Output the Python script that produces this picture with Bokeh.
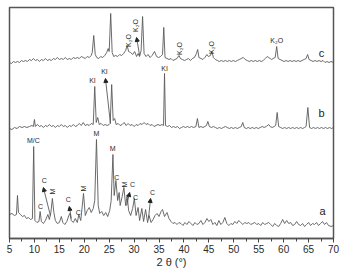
from bokeh.plotting import figure
from bokeh.models import Range1d, SingleIntervalTicker, Arrow, NormalHead, ColumnDataSource
from bokeh.core.properties import value
from bokeh.embed import file_html
from bokeh.resources import INLINE

# ---- data: 2theta (deg) and relative intensity for each pattern ----
theta_a = [5.0, 5.5, 6.0, 6.4, 6.6, 6.8, 7.2, 7.6, 8.0, 8.4, 8.8, 9.2, 9.6, 9.85, 10.1, 10.5, 10.9, 11.15, 11.4, 11.8,
           12.2, 12.7, 13.0, 13.3, 13.6, 13.9, 14.2, 14.6, 15.0, 15.4, 15.7, 16.1, 16.5, 16.9, 17.1, 17.4, 17.8, 18.2, 18.6, 18.9,
           19.3, 19.85, 20.2, 20.6, 21.0, 21.4, 21.8, 22.1, 22.45, 22.8, 23.1, 23.5, 23.9, 24.3, 24.7, 25.1, 25.4, 25.75, 26.0, 26.35,
           26.7, 27.0, 27.2, 27.6, 27.95, 28.3, 28.6, 28.9, 29.3, 29.7, 30.05, 30.4, 30.8, 31.1, 31.55, 31.9, 32.3, 32.7, 33.0, 33.4,
           33.8, 34.2, 34.6, 35.0, 35.4, 35.7, 36.1, 36.6, 37.0, 37.4, 37.8, 38.2, 38.6, 39.0, 39.4, 39.8, 40.2, 40.6, 41.0, 41.4,
           41.8, 42.2, 42.6, 43.0, 43.4, 43.8, 44.2, 44.6, 45.0, 45.4, 45.8, 46.2, 46.6, 47.0, 47.4, 47.8, 48.2, 48.6, 49.0, 49.4,
           49.8, 50.2, 50.6, 51.0, 51.4, 51.8, 52.2, 52.6, 53.0, 53.4, 53.8, 54.2, 54.6, 55.0, 55.4, 55.8, 56.2, 56.6, 57.0, 57.4,
           57.8, 58.2, 58.6, 59.0, 59.4, 59.8, 60.2, 60.6, 61.0, 61.4, 61.8, 62.2, 62.6, 63.0, 63.4, 63.8, 64.2, 64.6, 65.0, 65.4,
           65.8, 66.2, 66.6, 67.0, 67.4, 67.8, 68.2, 68.6, 69.0, 69.5, 70.0]
int_a = [24, 25, 23, 24, 43, 26, 24, 22, 23, 20, 21, 19, 20, 92, 18, 16, 17, 27, 17, 15,
         18, 24, 19, 26, 40, 26, 18, 15, 16, 22, 16, 14, 17, 23, 25, 18, 16, 20, 16, 24,
         18, 45, 23, 28, 31, 26, 30, 38, 99, 33, 25, 27, 23, 26, 22, 28, 38, 84, 43, 58,
         38, 46, 33, 42, 51, 33, 43, 28, 23, 30, 40, 23, 31, 18, 30, 17, 29, 16, 23, 16,
         19, 23, 25, 22, 27, 29, 22, 26, 20, 17, 15, 16, 14, 16, 15, 13, 16, 14, 17, 15,
         13, 16, 14, 15, 18, 14, 16, 20, 17, 19, 14, 16, 13, 18, 14, 16, 21, 15, 13, 15,
         14, 17, 15, 18, 16, 14, 16, 15, 16, 14, 15, 16, 14, 15, 13, 16, 14, 15, 16, 14,
         12, 15, 13, 12, 15, 19, 15, 18, 15, 16, 13, 14, 17, 14, 13, 15, 12, 14, 16, 13,
         15, 14, 16, 13, 15, 17, 14, 16, 13, 12, 13]

theta_b = [5.0, 5.5, 6.0, 6.5, 7.0, 7.5, 8.0, 8.5, 9.0, 9.5, 9.8, 10.0, 10.2, 10.6, 11.0, 11.4, 11.8, 12.2, 12.6, 13.0,
           13.4, 13.8, 14.2, 14.6, 15.0, 15.4, 15.8, 16.2, 16.6, 17.0, 17.4, 17.8, 18.2, 18.6, 19.0, 19.4, 19.8, 20.2, 20.6, 21.0,
           21.4, 21.8, 22.1, 22.4, 22.7, 23.0, 23.4, 23.8, 24.2, 24.6, 25.0, 25.2, 25.5, 25.8, 26.1, 26.4, 26.8, 27.2, 27.6, 28.0,
           28.4, 28.8, 29.2, 29.6, 30.0, 30.4, 30.8, 31.2, 31.6, 32.0, 32.4, 32.8, 33.2, 33.6, 34.0, 34.4, 34.8, 35.2, 35.6, 35.9,
           36.1, 36.3, 36.7, 37.1, 37.5, 37.9, 38.3, 38.7, 39.1, 39.5, 39.9, 40.3, 40.7, 41.1, 41.5, 41.9, 42.4, 42.7, 43.0, 43.4,
           43.8, 44.2, 44.5, 44.8, 45.1, 45.5, 45.9, 46.3, 46.7, 47.1, 47.5, 47.9, 48.3, 48.7, 49.1, 49.5, 49.9, 50.3, 50.7, 51.1,
           51.5, 51.8, 52.1, 52.5, 52.9, 53.3, 53.7, 54.1, 54.5, 54.9, 55.3, 55.7, 56.1, 56.5, 57.0, 57.3, 57.7, 58.1, 58.4, 58.7,
           59.0, 59.4, 59.8, 60.2, 60.6, 61.0, 61.4, 61.8, 62.2, 62.6, 63.0, 63.4, 63.8, 64.2, 64.5, 64.85, 65.2, 65.6, 66.0, 66.4,
           66.8, 67.2, 67.6, 68.0, 68.4, 68.8, 69.2, 69.6, 70.0]
int_b = [10, 9, 11, 10, 12, 11, 12, 11, 12, 13, 12, 19, 12, 14, 12, 13, 11, 13, 12, 14,
         12, 13, 11, 13, 12, 14, 12, 13, 11, 13, 12, 14, 12, 13, 15, 13, 16, 13, 14, 13,
         15, 14, 52, 16, 21, 14, 15, 13, 14, 13, 14, 15, 54, 18, 20, 14, 15, 13, 14, 16,
         13, 15, 13, 14, 12, 14, 13, 15, 14, 16, 14, 15, 13, 14, 12, 13, 14, 13, 14, 13,
         65, 13, 12, 13, 11, 12, 11, 12, 10, 11, 12, 11, 12, 11, 12, 11, 12, 20, 11, 12,
         11, 12, 13, 17, 12, 11, 12, 11, 10, 11, 10, 11, 12, 11, 10, 11, 10, 11, 10, 11,
         12, 16, 11, 10, 11, 10, 11, 10, 11, 10, 11, 12, 11, 12, 14, 12, 11, 12, 13, 26,
         12, 11, 10, 11, 10, 11, 10, 11, 10, 11, 10, 11, 10, 11, 12, 31, 11, 10, 11, 10,
         11, 10, 11, 10, 11, 10, 11, 10, 11]

theta_c = [5.0, 5.4, 5.8, 6.2, 6.6, 7.0, 7.4, 7.8, 8.2, 8.6, 9.0, 9.4, 9.8, 10.2, 10.6, 11.0, 11.4, 11.8, 12.2, 12.6,
           13.0, 13.4, 13.8, 14.2, 14.6, 15.0, 15.4, 15.8, 16.2, 16.6, 17.0, 17.4, 17.8, 18.2, 18.6, 19.0, 19.4, 19.8, 20.2, 20.6,
           21.0, 21.4, 21.6, 21.9, 22.2, 22.5, 22.9, 23.3, 23.7, 24.1, 24.5, 24.8, 25.0, 25.3, 25.6, 25.9, 26.3, 26.7, 27.1, 27.5,
           27.9, 28.3, 28.6, 28.9, 29.3, 29.7, 30.1, 30.5, 30.8, 31.1, 31.4, 31.7, 32.0, 32.4, 32.8, 33.2, 33.6, 34.1, 34.5, 34.9,
           35.3, 35.7, 35.95, 36.2, 36.6, 37.0, 37.4, 37.8, 38.2, 38.6, 39.0, 39.3, 39.7, 40.1, 40.5, 40.9, 41.3, 41.7, 42.1, 42.5,
           42.75, 43.0, 43.4, 43.8, 44.2, 44.6, 44.9, 45.3, 45.6, 45.9, 46.3, 46.7, 47.1, 47.5, 47.9, 48.3, 48.7, 49.1, 49.5, 49.9,
           50.3, 50.7, 51.1, 51.5, 51.9, 52.3, 52.7, 53.1, 53.5, 53.9, 54.3, 54.7, 55.1, 55.5, 55.9, 56.3, 56.7, 57.0, 57.3, 57.6,
           57.9, 58.3, 58.6, 58.9, 59.3, 59.7, 60.1, 60.5, 60.9, 61.3, 61.7, 62.1, 62.5, 62.9, 63.3, 63.7, 64.1, 64.5, 64.8, 65.1,
           65.5, 65.9, 66.3, 66.7, 67.1, 67.5, 67.9, 68.3, 68.7, 69.1, 69.5, 70.0]
int_c = [11, 10, 12, 11, 12, 11, 13, 12, 13, 12, 14, 13, 15, 13, 14, 12, 14, 13, 15, 13,
         14, 13, 15, 14, 16, 14, 15, 14, 16, 14, 15, 14, 16, 15, 16, 15, 17, 16, 15, 17,
         16, 18, 21, 38, 19, 16, 15, 17, 16, 18, 21, 25, 22, 60, 21, 17, 18, 17, 19, 18,
         20, 23, 28, 22, 21, 19, 22, 17, 20, 17, 23, 57, 20, 17, 19, 16, 18, 22, 17, 16,
         17, 19, 46, 16, 15, 14, 15, 13, 14, 15, 18, 15, 14, 13, 14, 15, 13, 15, 16, 20,
         24, 16, 15, 14, 16, 19, 17, 18, 22, 16, 14, 13, 12, 13, 12, 13, 12, 13, 12, 13,
         12, 13, 14, 15, 16, 14, 13, 12, 13, 12, 13, 12, 13, 12, 13, 15, 17, 16, 15, 14,
         15, 16, 27, 15, 14, 13, 12, 13, 12, 13, 12, 13, 12, 13, 12, 13, 14, 15, 19, 14,
         13, 12, 13, 12, 13, 12, 13, 11, 12, 11, 12, 11]

offsets = {"a": 0, "b": 100, "c": 165}

# phase labels: (text, 2theta, y, angle)
labels_a = [("M/C", 9.8, 98, 0), ("C", 11.2, 32, 0), ("C", 12.0, 58, 0), ("M", 13.6, 47, 1.5708),
            ("C", 16.8, 39, 0), ("C", 18.8, 26, 0), ("M", 19.85, 50, 1.5708), ("M", 22.45, 105, 0),
            ("M", 25.7, 90, 0), ("C", 26.5, 61, 0), ("M", 28.1, 54, 1.5708), ("C", 29.7, 54, 0),
            ("C", 30.3, 41, 0), ("C", 33.7, 46, 0)]
labels_b = [("KI", 21.65, 158, 0), ("KI", 24.05, 167, 0), ("KI", 36.1, 170, 0)]
labels_c = [("K\u2082O", 28.9, 198, 1.5708), ("K\u2082O", 30.3, 213, 1.5708), ("K\u2082O", 39.1, 190, 1.5708),
            ("K\u2082O", 45.5, 191, 1.5708), ("K\u2082O", 58.6, 198, 0)]
series_names = [("a", 67.8, 28), ("b", 67.6, 126), ("c", 67.6, 186)]
# arrows: (x_start, y_start, x_end, y_end)
arrows = [(13.2, 23, 11.8, 51), (17.4, 20, 17.0, 32), (28.5, 33, 29.1, 46), (32.9, 21, 33.3, 40),
          (25.25, 115, 24.25, 160), (31.1, 183, 30.5, 201)]
x_title = "2 \u03b8 (\u00b0)"

LINE = "#5a5a5a"
TXT = "#2a2a2a"

p = figure(width=345, height=277, output_backend="svg", toolbar_location=None,
           x_range=Range1d(5, 70), y_range=Range1d(0, 231), y_axis_location=None,
           min_border_left=9, min_border_right=12, min_border_top=7, min_border_bottom=39)
p.background_fill_color = "white"
p.border_fill_color = "white"
p.outline_line_color = "#555555"
p.outline_line_width = 1.5
p.xgrid.visible = False
p.ygrid.visible = False

for th, it, key in [(theta_a, int_a, "a"), (theta_b, int_b, "b"), (theta_c, int_c, "c")]:
    ys = [v + offsets[key] for v in it]
    p.line(th, ys, line_color=LINE, line_width=0.9)

font = value("Liberation Sans")
for labs in (labels_a, labels_b, labels_c):
    src = ColumnDataSource(dict(t=[l[0] for l in labs], x=[l[1] for l in labs],
                                y=[l[2] for l in labs], a=[l[3] for l in labs]))
    p.text(x="x", y="y", text="t", angle="a", source=src, text_font=font, text_font_size="7px",
           text_color=TXT, text_align="center", text_baseline="middle")

src_n = ColumnDataSource(dict(t=[s[0] for s in series_names], x=[s[1] for s in series_names],
                              y=[s[2] for s in series_names]))
p.text(x="x", y="y", text="t", source=src_n, text_font=font, text_font_size="11px",
       text_color="#222222", text_align="center", text_baseline="middle")

for x0, y0, x1, y1 in arrows:
    p.add_layout(Arrow(end=NormalHead(size=4, fill_color="#222222", line_color="#222222"),
                       x_start=x0, y_start=y0, x_end=x1, y_end=y1,
                       line_color="#444444", line_width=0.8))

ax = p.xaxis[0]
ax.ticker = SingleIntervalTicker(interval=5, num_minor_ticks=2)
ax.axis_line_color = "#555555"
ax.axis_line_width = 1.5
ax.major_tick_out = 4
ax.major_tick_in = 0
ax.minor_tick_out = 3
ax.minor_tick_in = 0
ax.major_tick_line_color = "#444444"
ax.minor_tick_line_color = "#444444"
ax.major_label_text_font = "Liberation Sans"
ax.major_label_text_font_size = "10px"
ax.major_label_text_color = TXT
ax.major_label_standoff = 2
ax.axis_label = x_title
ax.axis_label_text_font = "Liberation Sans"
ax.axis_label_text_font_size = "11px"
ax.axis_label_text_font_style = "normal"
ax.axis_label_text_color = TXT
ax.axis_label_standoff = 0

open("out.html", "w").write(file_html(p, INLINE))
